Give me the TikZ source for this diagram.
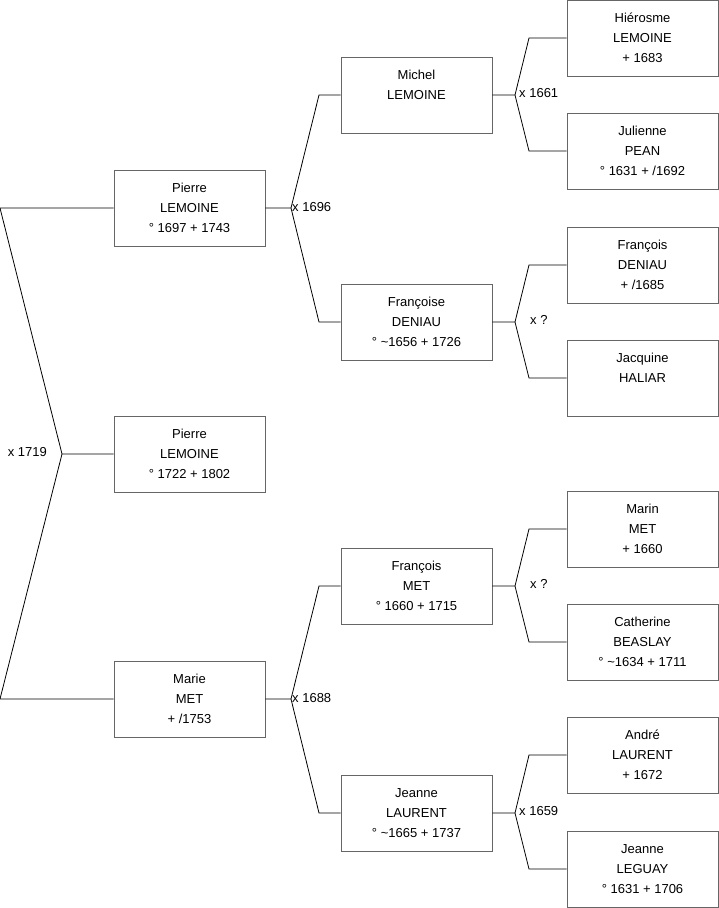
\documentclass[tikz,border=0pt]{standalone}
\usepackage{fontspec}
\setmainfont{Liberation Sans}
\begin{document}
\begin{tikzpicture}[x=1pt,y=-1pt,
 person/.style={draw=black!60, line width=0.9pt, minimum width=151pt, minimum height=76pt, inner sep=0pt, align=center, font=\fontsize{13}{20}\selectfont},
 link/.style={draw=black, line width=0.8pt},
 lbl/.style={font=\fontsize{13}{15}\selectfont, inner sep=1pt}]
\useasboundingbox (0,0) rectangle (719,908);
% generation 1
\node[person] (p1) at (189.5,208) {Pierre\\LEMOINE\\° 1697 + 1743};
\node[person] (p2) at (189.5,454) {Pierre\\LEMOINE\\° 1722 + 1802};
\node[person] (p3) at (189.5,699) {Marie\\MET\\+ /1753};
% generation 2
\node[person] (m1) at (416.5,95) {Michel\\LEMOINE\\\phantom{0}};
\node[person] (m2) at (416.5,322) {Françoise\\DENIAU\\° \textasciitilde 1656 + 1726};
\node[person] (m3) at (416.5,586) {François\\MET\\° 1660 + 1715};
\node[person] (m4) at (416.5,813) {Jeanne\\LAURENT\\° \textasciitilde 1665 + 1737};
% generation 3
\node[person] (g1) at (642.5,38) {Hiérosme\\LEMOINE\\+ 1683};
\node[person] (g2) at (642.5,151) {Julienne\\PEAN\\° 1631 + /1692};
\node[person] (g3) at (642.5,265) {François\\DENIAU\\+ /1685};
\node[person] (g4) at (642.5,378) {Jacquine\\HALIAR\\\phantom{0}};
\node[person] (g5) at (642.5,529) {Marin\\MET\\+ 1660};
\node[person] (g6) at (642.5,642) {Catherine\\BEASLAY\\° \textasciitilde 1634 + 1711};
\node[person] (g7) at (642.5,755) {André\\LAURENT\\+ 1672};
\node[person] (g8) at (642.5,869) {Jeanne\\LEGUAY\\° 1631 + 1706};
% fork: top level
\coordinate (f0) at (62,454);
\coordinate (t1) at (0,208);
\coordinate (t3) at (0,699);
\draw[link] (p2.west) -- (f0) -- (t1) -- (p1.west);
\draw[link] (f0) -- (t3) -- (p3.west);
\node[lbl, anchor=east] (l0) at (48,452) {x 1719};
% fork: Pierre 1697
\coordinate (f1) at (291,208);
\coordinate (u1) at (319,95);
\coordinate (u2) at (319,322);
\draw[link] (p1.east) -- (f1) -- (u1) -- (m1.west);
\draw[link] (f1) -- (u2) -- (m2.west);
\node[lbl, anchor=west] (l1) at (291,207) {x 1696};
% fork: Marie MET
\coordinate (f2) at (291,699);
\coordinate (u3) at (319,586);
\coordinate (u4) at (319,813);
\draw[link] (p3.east) -- (f2) -- (u3) -- (m3.west);
\draw[link] (f2) -- (u4) -- (m4.west);
\node[lbl, anchor=west] (l2) at (291,698) {x 1688};
% fork: Michel
\coordinate (h1) at (515,95);
\coordinate (v1) at (529,38);
\coordinate (v2) at (529,151);
\draw[link] (m1.east) -- (h1) -- (v1) -- (g1.west);
\draw[link] (h1) -- (v2) -- (g2.west);
\node[lbl, anchor=west] (l3) at (518,93) {x 1661};
% fork: Françoise
\coordinate (h2) at (515,322);
\coordinate (v3) at (529,265);
\coordinate (v4) at (529,378);
\draw[link] (m2.east) -- (h2) -- (v3) -- (g3.west);
\draw[link] (h2) -- (v4) -- (g4.west);
\node[lbl, anchor=west] (l4) at (529,320) {x ?};
% fork: François MET
\coordinate (h3) at (515,586);
\coordinate (v5) at (529,529);
\coordinate (v6) at (529,642);
\draw[link] (m3.east) -- (h3) -- (v5) -- (g5.west);
\draw[link] (h3) -- (v6) -- (g6.west);
\node[lbl, anchor=west] (l5) at (529,584) {x ?};
% fork: Jeanne LAURENT
\coordinate (h4) at (515,813);
\coordinate (v7) at (529,755);
\coordinate (v8) at (529,869);
\draw[link] (m4.east) -- (h4) -- (v7) -- (g7.west);
\draw[link] (h4) -- (v8) -- (g8.west);
\node[lbl, anchor=west] (l6) at (518,811) {x 1659};
\end{tikzpicture}
\end{document}
